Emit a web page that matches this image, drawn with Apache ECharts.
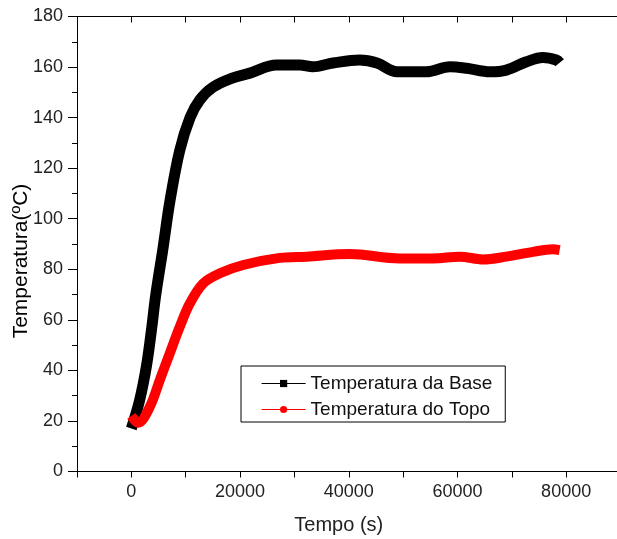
<!DOCTYPE html>
<html>
<head>
<meta charset="utf-8">
<script src="https://cdn.jsdelivr.net/npm/echarts@6/dist/echarts.min.js"></script>
<style>
  html, body { margin: 0; padding: 0; background: #fff; }
  #chart { width: 617px; height: 539px; }
</style>
</head>
<body>
<div id="chart"></div>
<script>
// Temperature readings (time in seconds, temperature in ºC)
const baseTime = [0, 1500, 2800, 3700, 4500, 5800, 7100, 8900, 10800, 12600, 15000, 18700, 21800, 26700, 31000, 33400, 37100, 42000, 45200, 48900, 54300, 58600, 61700, 66000, 69000, 72700, 75700, 78200, 78800];
const baseTemp = [17, 28, 42, 56, 70, 88, 107, 127, 140, 147, 152, 155.7, 157.6, 160.8, 160.8, 160.1, 161.6, 162.8, 161.6, 158.1, 158.1, 160.1, 159.5, 158.1, 158.8, 162.1, 163.8, 162.8, 161.7];

const topoTime = [0, 1250, 3400, 5240, 7080, 8920, 10760, 13210, 16280, 20570, 27300, 32200, 40200, 49400, 55500, 60400, 64700, 69000, 73900, 77600, 78800];
const topoTemp = [22, 19.3, 25.6, 36.2, 46.8, 57.3, 66.5, 74.4, 78.4, 81.7, 84.5, 85, 86, 84.3, 84.3, 85, 83.9, 85, 86.9, 87.9, 87.6];

const seriesNames = ['Temperatura da Base', 'Temperatura do Topo'];
const xName = 'Tempo (s)';
const yName = 'Temperatura(ºC)';

const pairs = (xs, ys) => xs.map((x, i) => [x, ys[i]]);

const tickFont = 'Liberation Sans Narrow, Liberation Sans, Arial, sans-serif';
const textFont = 'Liberation Sans, Arial, sans-serif';

const chart = echarts.init(document.getElementById('chart'), null, { renderer: 'canvas' });

chart.setOption({
  animation: false,
  backgroundColor: '#ffffff',
  grid: { left: 77, top: 16.5, bottom: 67.5, right: -3.5, outerBoundsMode: 'none', containLabel: false },
  legend: {
    orient: 'vertical',
    left: 241,
    top: 366,
    padding: [8, 13, 3, 20],
    itemGap: 7,
    itemWidth: 44,
    itemHeight: 9,
    borderColor: '#000',
    borderWidth: 1,
    backgroundColor: '#fff',
    lineStyle: { width: 1.2 },
    textStyle: { fontFamily: textFont, fontSize: 19, color: '#111' },
    data: seriesNames
  },
  xAxis: [
    {
      type: 'value',
      position: 'bottom',
      min: -10000,
      max: 90000,
      interval: 10000,
      name: xName,
      nameLocation: 'middle',
      nameGap: 44,
      nameMoveOverlap: false,
      nameTextStyle: { fontFamily: textFont, fontSize: 20, color: '#222', padding: [0, 20, 0, 0] },
      axisLine: { show: true, onZero: false, lineStyle: { color: '#000', width: 1 } },
      axisTick: { show: true, inside: false, length: 6, lineStyle: { color: '#000' } },
      axisLabel: {
        margin: 12,
        fontFamily: tickFont,
        fontSize: 18,
        color: '#222',
        formatter: v => (v >= 0 && v % 20000 === 0) ? String(v) : ''
      },
      splitLine: { show: false }
    },
    {
      type: 'value',
      position: 'top',
      min: -10000,
      max: 90000,
      interval: 10000,
      axisLine: { show: true, onZero: false, lineStyle: { color: '#000', width: 1 } },
      axisTick: { show: true, inside: true, length: 6, lineStyle: { color: '#000' } },
      axisLabel: { show: false },
      splitLine: { show: false }
    }
  ],
  yAxis: {
    type: 'value',
    min: 0,
    max: 180,
    interval: 20,
    name: yName,
    nameLocation: 'middle',
    nameGap: 45,
    nameMoveOverlap: false,
    nameTextStyle: { fontFamily: textFont, fontSize: 21, color: '#000', padding: [0, 34, 0, 0] },
    axisLine: { show: true, onZero: false, lineStyle: { color: '#000', width: 1 } },
    axisTick: { show: true, inside: false, length: 9, lineStyle: { color: '#000' } },
    minorTick: { show: true, splitNumber: 2, length: 5, lineStyle: { color: '#000' } },
    axisLabel: { margin: 14, fontFamily: tickFont, fontSize: 18, color: '#222' },
    splitLine: { show: false }
  },
  series: [
    {
      name: seriesNames[0],
      type: 'line',
      xAxisIndex: 0,
      data: pairs(baseTime, baseTemp),
      smooth: 0.35,
      symbol: 'rect',
      symbolSize: 9,
      showSymbol: false,
      itemStyle: { color: '#000' },
      lineStyle: { color: '#000', width: 11 }
    },
    {
      name: seriesNames[1],
      type: 'line',
      xAxisIndex: 0,
      data: pairs(topoTime, topoTemp),
      smooth: 0.35,
      symbol: 'circle',
      symbolSize: 9,
      showSymbol: false,
      itemStyle: { color: '#ff0000' },
      lineStyle: { color: '#ff0000', width: 10 }
    }
  ]
});
</script>
</body>
</html>
